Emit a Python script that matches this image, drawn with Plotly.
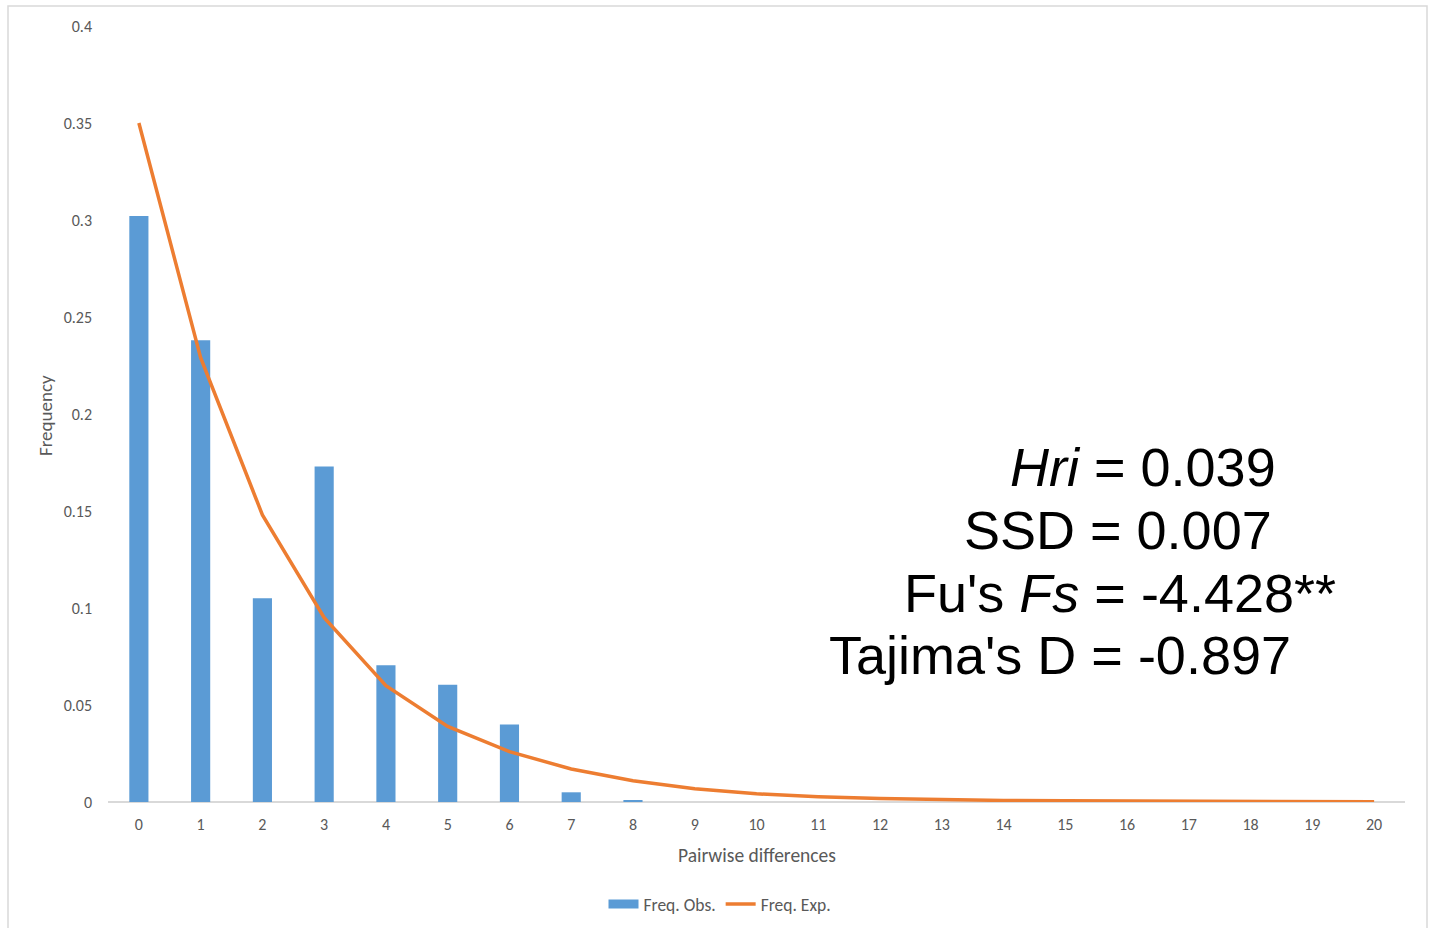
import plotly.graph_objects as go

categories = list(range(0, 21))
freq_obs = [0.302, 0.238, 0.105, 0.173, 0.0705, 0.0605, 0.040, 0.005, 0.0007,
            0, 0, 0, 0, 0, 0, 0, 0, 0, 0, 0, 0]
freq_exp = [0.350, 0.229, 0.148, 0.095, 0.060, 0.039, 0.026, 0.017, 0.011,
            0.0068, 0.0042, 0.0027, 0.0018, 0.0012, 0.0008, 0.0006, 0.0005,
            0.0003, 0.0002, 0.0001, 0.0001]
y_ticks = [0, 0.05, 0.1, 0.15, 0.2, 0.25, 0.3, 0.35, 0.4]
y_tick_text = ["0", "0.05", "0.1", "0.15", "0.2", "0.25", "0.3", "0.35", "0.4"]
stats_lines = ["<i>Hri</i> = 0.039", "SSD = 0.007", "Fu's <i>Fs</i> = -4.428**", "Tajima's D = -0.897"]

BLUE = "#5B9BD5"
ORANGE = "#ED7D31"

W, H = 1429, 928
L, R, T, B = 108, 24, 26, 126
pw, ph = W - L - R, H - T - B

def px(x):
    return (x - L) / pw

def py(y):
    return (H - B - y) / ph

fig = go.Figure()
fig.add_trace(go.Bar(x=categories, y=freq_obs, name="Freq. Obs.", showlegend=False,
                     legendgroup="obs",
                     marker=dict(color=BLUE, line=dict(width=0)), width=0.31))
# legend entry for the bars drawn as a wide rectangle (like the Excel legend key)
fig.add_trace(go.Scatter(x=[None], y=[None], name="Freq. Obs.", mode="lines",
                         legendgroup="obs", line=dict(color=BLUE, width=9)))
fig.add_trace(go.Scatter(x=categories, y=freq_exp, name="Freq. Exp.", mode="lines",
                         line=dict(color=ORANGE, width=3.5)))

FONT = "Carlito, Lato, sans-serif"
tick_font = dict(family=FONT, size=16, color="#595959")

fig.update_layout(
    width=W, height=H,
    margin=dict(l=L, r=R, t=T, b=B, autoexpand=False),
    plot_bgcolor="white", paper_bgcolor="white",
    showlegend=True,
    legend=dict(orientation="h", x=px(720), y=py(904), xanchor="center", yanchor="middle",
                font=dict(family=FONT, size=17.5, color="#595959"), itemwidth=30,
                tracegroupgap=0),
    bargap=0.69,
    xaxis=dict(range=[-0.5, 20.5], tickmode="array", tickvals=categories,
               ticktext=[str(c) for c in categories], showgrid=False, zeroline=False,
               showline=False, ticks="", tickfont=tick_font, ticklabelstandoff=11),
    yaxis=dict(range=[0, 0.4], tickmode="array", tickvals=y_ticks, ticktext=y_tick_text,
               showgrid=False, zeroline=True, zerolinecolor="#D9D9D9", zerolinewidth=1.5,
               showline=False, ticks="", tickfont=tick_font, ticklabelstandoff=15),
)

fig.add_annotation(text="Pairwise differences", xref="paper", yref="paper",
                   x=px(757), y=py(855), showarrow=False, xanchor="center", yanchor="middle",
                   font=dict(family=FONT, size=19.5, color="#595959"))
fig.add_annotation(text="Frequency", xref="paper", yref="paper", textangle=-90,
                   x=px(45), y=py(416), showarrow=False, xanchor="center", yanchor="middle",
                   font=dict(family=FONT, size=19, color="#595959"))

starts = [1008, 962, 902, 827]
ys = [467, 530, 593, 655]
for txt, sx, sy in zip(stats_lines, starts, ys):
    fig.add_annotation(text=txt, xref="paper", yref="paper", x=px(sx), y=py(sy),
                       showarrow=False, xanchor="left", yanchor="middle",
                       font=dict(family="Liberation Sans, Arial, sans-serif", size=54, color="black"))

fig.add_shape(type="rect", xref="paper", yref="paper", x0=px(8), x1=px(1427),
              y0=py(960), y1=py(6), line=dict(color="#D9D9D9", width=1.5), fillcolor="rgba(0,0,0,0)")

fig.write_html("out.html")
